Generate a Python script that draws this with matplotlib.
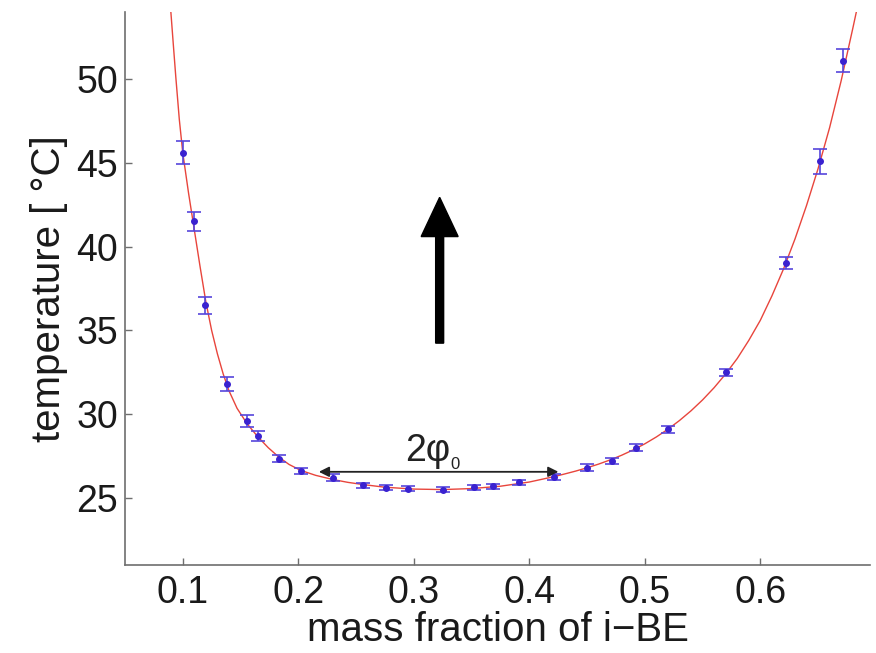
import numpy as np
import matplotlib
matplotlib.use("Agg")
import matplotlib.pyplot as plt

plt.rcParams['font.family'] = ['Liberation Sans', 'DejaVu Sans']

# measured points (mass fraction, temperature, error)
frac = [0.100, 0.110, 0.119, 0.138, 0.156, 0.165, 0.183, 0.202, 0.230, 0.256,
        0.276, 0.295, 0.325, 0.352, 0.369, 0.391, 0.421, 0.450, 0.472, 0.492,
        0.520, 0.570, 0.622, 0.652, 0.672]
temp = [45.6, 41.5, 36.5, 31.8, 29.6, 28.7, 27.35, 26.6, 26.2, 25.75,
        25.6, 25.55, 25.5, 25.65, 25.7, 25.95, 26.25, 26.8, 27.2, 28.0,
        29.1, 32.5, 39.0, 45.1, 51.1]
err = [0.7, 0.55, 0.5, 0.4, 0.35, 0.3, 0.2, 0.2, 0.2, 0.15,
       0.15, 0.15, 0.15, 0.15, 0.15, 0.15, 0.2, 0.2, 0.2, 0.2,
       0.2, 0.2, 0.35, 0.75, 0.7]

# fitted curve
fit_x = [0.0897, 0.0920, 0.0940, 0.0970, 0.1000, 0.1050, 0.1100, 0.1150, 0.1200,
         0.1250, 0.1300, 0.1350, 0.1400, 0.1470, 0.1560, 0.1650, 0.1740, 0.1830,
         0.1920, 0.2020, 0.2150, 0.2300, 0.2430, 0.2560, 0.2750, 0.3000, 0.3250,
         0.3500, 0.3750, 0.4000, 0.4200, 0.4300, 0.4400, 0.4500, 0.4600, 0.4700,
         0.4800, 0.4900, 0.5000, 0.5100, 0.5200, 0.5300, 0.5400, 0.5500, 0.5600,
         0.5700, 0.5800, 0.5900, 0.6000, 0.6100, 0.6200, 0.6300, 0.6400, 0.6500,
         0.6600, 0.6700, 0.6800, 0.6900]
fit_t = [54.0, 51.9, 50.1, 47.6, 45.6, 43.2, 41.0, 38.8, 36.7,
         35.0, 33.6, 32.4, 31.4, 30.35, 29.4, 28.65, 28.0, 27.45,
         27.0, 26.65, 26.35, 26.1, 25.93, 25.8, 25.64, 25.53, 25.5,
         25.56, 25.7, 25.95, 26.25, 26.42, 26.6, 26.8, 27.02, 27.27,
         27.55, 27.87, 28.23, 28.64, 29.1, 29.62, 30.2, 30.85, 31.58,
         32.4, 33.32, 34.4, 35.6, 37.05, 38.65, 40.45, 42.45, 44.65,
         47.1, 49.9, 53.0, 56.2]

xticks = [0.1, 0.2, 0.3, 0.4, 0.5, 0.6]
yticks = [25, 30, 35, 40, 45, 50]

fig = plt.figure(figsize=(8.76, 6.53), dpi=100)
ax = fig.add_axes([0.1427, 0.1348, 0.8505, 0.8468])

ax.plot(fit_x, fit_t, color='#e8453c', lw=1.0, zorder=2)
ax.errorbar(frac, temp, yerr=err, fmt='o', ms=4, color='#3a22d0',
            ecolor='#5646dc', elinewidth=1.2, capsize=5, capthick=1.2, zorder=3)

# big arrow
ax.arrow(0.3224, 34.24, 0, 8.7, width=0.0069, head_width=0.032, head_length=2.34,
         length_includes_head=True, color='black', zorder=4)

# 2 phi_0 double arrow
ax.annotate('', xy=(0.2178, 26.56), xytext=(0.4252, 26.56),
            arrowprops=dict(arrowstyle='<|-|>', mutation_scale=15, lw=1.3,
                            color='#222222', shrinkA=0, shrinkB=0), zorder=4)
ax.text(0.3118, 27.2, '2φ', fontsize=27, ha='center', va='baseline', color='#222222')
ax.text(0.3318, 26.74, '0', fontsize=12, ha='left', va='baseline', color='#222222')

ax.set_xlim(0.05, 0.695)
ax.set_ylim(21, 54)
ax.set_xticks(xticks)
ax.set_xticklabels([str(v) for v in xticks])
ax.set_yticks(yticks)

for s in ['top', 'right']:
    ax.spines[s].set_visible(False)
for s in ['left', 'bottom']:
    ax.spines[s].set_color('#6e6e6e')
    ax.spines[s].set_linewidth(1.2)

ax.tick_params(direction='in', length=5, width=1, color='#6e6e6e',
               labelsize=27, labelcolor='#1a1a1a')
ax.tick_params(axis='x', pad=7)
ax.tick_params(axis='y', pad=5)

ax.set_xlabel('mass fraction of i\u2212BE', fontsize=29, color='#1a1a1a', labelpad=0)
ax.set_ylabel('temperature [ °C]', fontsize=29, color='#1a1a1a', labelpad=6)

fig.savefig('out.png', dpi=100)
